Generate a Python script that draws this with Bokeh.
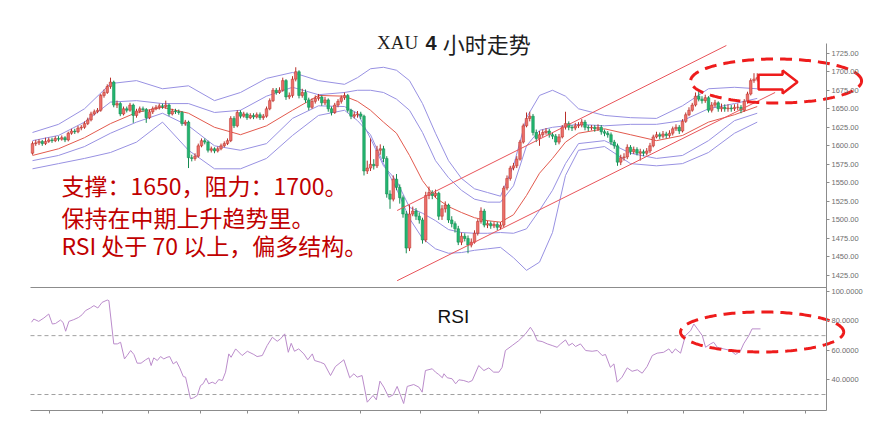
import numpy as np
from bokeh.plotting import figure
from bokeh.models import (Range1d, LinearAxis, FixedTicker, CustomJSTickFormatter,
                          Label, ColumnDataSource)
from bokeh.embed import file_html
from bokeh.resources import INLINE

# ---------------- data ----------------
first_open = 1590
close = [1603,1604,1606,1603,1606,1608,1607,1610,1609,1611,
         1608,1617,1620,1619,1624,1625,1630,1635,1643,1646,
         1648,1668,1672,1680,1686,1655,1657,1643,1650,1648,
         1655,1641,1647,1650,1649,1638,1646,1650,1652,1654,
         1653,1655,1643,1647,1646,1645,1630,1632,1584,1583,
         1586,1600,1607,1605,1594,1596,1593,1596,1600,1603,
         1607,1637,1627,1645,1640,1643,1638,1641,1639,1642,
         1638,1640,1650,1661,1675,1672,1675,1688,1666,1668,
         1690,1700,1668,1672,1662,1652,1660,1664,1666,1658,
         1662,1650,1645,1655,1660,1665,1668,1648,1640,1642,
         1643,1640,1566,1570,1575,1573,1594,1596,1583,1535,
         1528,1555,1544,1530,1508,1462,1508,1512,1505,1500,
         1473,1533,1537,1533,1536,1505,1515,1520,1500,1495,
         1488,1470,1478,1475,1466,1470,1482,1498,1512,1493,
         1495,1492,1494,1490,1493,1543,1556,1570,1573,1582,
         1605,1627,1637,1640,1618,1610,1615,1618,1620,1615,
         1613,1605,1612,1625,1630,1625,1624,1627,1628,1632,
         1625,1624,1625,1623,1625,1619,1617,1615,1605,1600,
         1578,1584,1585,1598,1592,1595,1590,1592,1590,1593,
         1600,1612,1615,1613,1616,1614,1617,1623,1625,1620,
         1633,1642,1648,1655,1667,1663,1661,1665,1648,1655,
         1658,1650,1652,1650,1651,1650,1652,1652,1648,1660,
         1670,1688,1690,1692]
high = [1606,1608,1609,1608,1611,1611,1611,1613,1613,1614,
        1613,1619,1623,1623,1627,1628,1633,1638,1646,1649,
        1651,1670,1676,1683,1692,1688,1661,1659,1653,1653,
        1658,1657,1650,1653,1653,1651,1649,1653,1655,1657,
        1657,1661,1657,1650,1650,1649,1647,1635,1634,1588,
        1590,1603,1610,1610,1607,1599,1598,1599,1603,1606,
        1610,1640,1640,1648,1648,1646,1645,1644,1644,1645,
        1645,1643,1653,1664,1678,1678,1679,1692,1690,1672,
        1694,1706,1702,1677,1676,1665,1664,1668,1670,1668,
        1666,1664,1653,1658,1663,1668,1672,1670,1650,1646,
        1647,1646,1642,1580,1610,1582,1600,1602,1600,1586,
        1540,1560,1562,1548,1533,1512,1520,1518,1516,1510,
        1503,1538,1545,1540,1541,1538,1520,1525,1522,1505,
        1498,1492,1483,1482,1479,1475,1486,1501,1517,1515,
        1499,1498,1497,1497,1497,1546,1560,1573,1577,1586,
        1608,1630,1645,1646,1643,1622,1620,1622,1624,1623,
        1618,1616,1616,1628,1646,1633,1628,1631,1632,1636,
        1635,1628,1628,1628,1629,1628,1622,1620,1618,1608,
        1603,1588,1590,1602,1601,1599,1598,1596,1595,1597,
        1604,1615,1619,1618,1620,1619,1621,1626,1629,1628,
        1636,1645,1652,1658,1672,1675,1667,1669,1667,1659,
        1662,1660,1657,1656,1656,1655,1656,1657,1655,1663,
        1673,1691,1698,1698]
low = [1588,1600,1601,1600,1601,1604,1604,1605,1606,1607,
       1605,1606,1615,1616,1617,1621,1623,1628,1633,1641,
       1644,1646,1665,1670,1677,1652,1651,1640,1641,1645,
       1646,1631,1638,1644,1646,1631,1636,1643,1648,1649,
       1650,1650,1640,1641,1643,1642,1627,1627,1570,1579,
       1580,1584,1598,1602,1591,1591,1590,1591,1594,1598,
       1601,1605,1624,1625,1637,1638,1635,1636,1636,1637,
       1635,1635,1638,1648,1659,1669,1670,1673,1662,1663,
       1665,1687,1664,1665,1658,1648,1650,1657,1661,1654,
       1655,1646,1641,1643,1652,1657,1662,1645,1636,1637,
       1638,1636,1560,1562,1566,1568,1570,1588,1578,1530,
       1515,1525,1540,1522,1503,1455,1458,1505,1500,1495,
       1468,1470,1528,1528,1530,1500,1500,1510,1496,1490,
       1483,1466,1466,1471,1455,1463,1468,1479,1495,1490,
       1489,1488,1489,1486,1487,1490,1540,1553,1567,1570,
       1580,1603,1625,1633,1614,1605,1600,1612,1615,1611,
       1609,1601,1602,1610,1622,1621,1620,1621,1624,1625,
       1621,1620,1621,1619,1620,1615,1613,1611,1601,1596,
       1573,1574,1580,1582,1588,1589,1587,1580,1586,1587,
       1590,1598,1610,1609,1610,1610,1611,1614,1620,1616,
       1618,1631,1640,1646,1653,1660,1657,1658,1645,1645,
       1652,1646,1646,1646,1646,1646,1647,1648,1644,1646,
       1657,1668,1685,1687]

# five envelope lines (two purple above, red middle, two purple below)
band_idx = [0,8,16,24,32,40,48,56,64,72,80,88,96,100,104,108,112,116,120,124,
            128,132,136,140,144,148,152,156,160,164,168,176,184,192,200,208,216,223]
band_1 = [1618,1629,1650,1684,1688,1677,1681,1661,1672,1691,1699,1688,1683,1692,1704,1706,1702,1688,1657,1617,
          1580,1556,1542,1537,1532,1573,1638,1668,1675,1667,1650,1641,1638,1637,1654,1677,1679,1677]
band_2 = [1607,1614,1632,1659,1661,1657,1657,1645,1648,1667,1679,1669,1672,1675,1675,1672,1663,1648,1618,1580,
          1557,1540,1528,1524,1524,1546,1600,1621,1625,1627,1629,1627,1629,1629,1634,1650,1657,1664]
band_mid = [1587,1596,1611,1630,1645,1652,1644,1625,1615,1627,1648,1668,1667,1660,1648,1632,1617,1587,1553,1530,
            1518,1510,1503,1499,1497,1507,1533,1563,1583,1605,1617,1623,1615,1607,1614,1632,1642,1653]
band_4 = [1580,1587,1599,1617,1632,1644,1627,1600,1594,1603,1637,1654,1653,1644,1610,1573,1553,1517,1509,1499,
          1487,1483,1482,1482,1483,1482,1488,1513,1540,1576,1603,1607,1590,1583,1587,1607,1634,1644]
band_5 = [1569,1576,1583,1591,1605,1632,1594,1569,1569,1583,1614,1641,1648,1634,1615,1576,1542,1502,1475,1461,
          1455,1456,1459,1461,1463,1449,1432,1443,1483,1560,1594,1599,1576,1573,1576,1591,1617,1632]

# RSI (candle position, value)
rsi_pos = [-0.3,0.4,1.9,3.5,5.0,6.1,7.1,8.6,9.4,10.2,
           11.2,12.7,14.2,15.3,16.3,17.8,18.9,20.1,21.4,23.0,
           23.5,25.0,26.1,27.1,28.3,29.1,30.2,31.2,32.2,33.4,
           34.8,35.8,36.5,37.3,38.4,39.4,40.4,41.4,42.2,43.3,
           44.3,45.3,46.4,47.1,48.6,49.6,50.7,51.7,52.5,53.4,
           54.2,55.3,56.3,57.3,58.4,59.4,60.4,61.1,62.5,64.5,
           66.1,68.1,69.1,70.7,72.2,73.8,75.3,76.3,77.6,78.7,
           79.6,80.6,81.9,83.5,84.7,86.1,86.8,88.6,89.8,91.7,
           93.2,95.8,97.6,98.9,99.9,101.4,103.0,104.8,105.8,106.9,
           108.1,109.6,111.0,112.2,114.2,115.3,117.3,118.9,119.9,120.9,
           123.0,124.0,125.0,126.1,126.6,127.6,129.1,130.2,131.2,132.7,
           134.2,135.3,137.3,138.9,140.4,141.9,143.5,144.5,145.5,147.6,
           149.6,151.7,153.2,154.2,155.3,156.8,158.4,159.9,161.4,162.5,
           164.0,165.0,166.1,167.1,168.6,170.2,172.2,173.8,175.3,176.3,
           177.8,178.9,179.9,181.4,183.0,184.5,186.1,187.6,189.1,190.7,
           192.2,194.2,195.8,196.8,197.8,199.4,200.9,202.5,203.5,205.0,
           206.1,207.1,208.6,209.6,210.7,212.7,214.8,216.3,217.8,218.8,
           220.4,221.4,224.0]
rsi_val = [79.1,81.3,79.7,82.0,84.7,77.9,78.3,80.6,79.0,73.0,
           79.7,80.9,82.4,84.3,87.0,88.8,90.4,88.8,92.6,94.2,
           93.8,64.4,64.4,65.5,54.2,56.5,59.9,57.2,51.3,51.3,
           53.6,54.9,49.7,54.9,53.1,55.8,54.2,55.3,55.8,50.8,
           52.4,48.1,42.2,41.8,27.1,27.8,29.4,36.1,37.3,41.1,
           37.3,38.4,37.3,40.2,39.5,45.2,57.6,55.3,61.0,56.5,
           59.4,57.2,55.8,56.5,63.3,68.9,66.2,67.8,71.2,58.7,
           64.8,59.4,61.0,57.6,53.6,57.6,53.1,51.9,50.8,42.9,
           49.0,53.6,41.4,44.1,41.8,42.9,24.8,29.4,26.4,39.1,
           35.0,28.2,29.8,35.5,23.9,35.5,36.8,35.0,31.6,46.3,
           47.5,45.2,43.6,41.4,44.1,41.4,40.7,37.3,40.0,39.5,
           38.4,39.5,49.7,46.3,48.1,45.2,45.2,48.5,59.9,63.3,
           66.6,71.2,75.7,72.3,66.6,66.0,64.4,63.3,62.1,64.4,
           67.1,63.3,64.8,62.6,64.4,59.9,59.4,59.9,56.5,57.2,
           48.5,50.8,38.4,41.8,48.1,45.8,46.8,44.5,49.0,56.5,
           58.1,58.7,61.0,58.1,61.0,58.1,70.0,73.4,77.9,73.4,
           70.0,62.1,64.4,65.5,62.1,61.0,59.9,57.2,59.4,64.4,
           70.0,74.6,74.6]

price_ticks = [1425, 1450, 1475, 1500, 1525, 1550, 1575, 1600, 1625, 1650, 1675, 1700, 1725]
rsi_ticks = [40, 60, 80, 100]
rsi_levels = [70, 30]
time_ticks = [5.3, 21.4, 35.6, 51.7, 66.1, 81.9, 100.9, 119.4, 137.2, 156.3, 183.0, 200.4, 218.9, 237.8]

title_parts = ["XAU", "4", "小时走势"]
notes = ["支撑：1650，阻力：1700。", "保持在中期上升趋势里。", "RSI 处于 70 以上，偏多结构。"]
rsi_title = "RSI"

# channel lines (candle position, price)
chan_upper_x, chan_upper_y = [112.2, 213.5], [1512.7, 1735.4]
chan_lower_x, chan_lower_y = [112.2, 228.5], [1418.0, 1672.0]

# ---------------- layout in data units ----------------
X_RANGE = (-9.85, 257.54)        # candle positions across the whole canvas
P_RANGE = (1229.33, 1796.12)     # price across the whole canvas height
R_RANGE = (12.35, 297.73)        # RSI across the whole canvas height
AXIS_X = 244.31                  # right value axis position
LEFT_X = -0.62                   # left end of panel lines
PANEL_TOP = 1738.1               # top of price panel (price)
SPLIT = 1408.8                   # border price / RSI panel (price)
BOTTOM = 1242.8                  # bottom of RSI panel (price)
P0, P1 = P_RANGE
R0, R1 = R_RANGE


def rsi_to_price(v):
    return P0 + (np.asarray(v, dtype=float) - R0) * (P1 - P0) / (R1 - R0)


RED = "#ee1c1c"
PURPLE = "#9891e2"
GRAY = "#8c8c8c"

p = figure(width=869, height=420, x_range=Range1d(*X_RANGE), y_range=Range1d(*P_RANGE),
           output_backend="svg", toolbar_location=None, title=None,
           x_axis_location=None, y_axis_location=None,
           min_border_left=0, min_border_right=0, min_border_top=0, min_border_bottom=0)
p.outline_line_color = None
p.grid.visible = False
p.background_fill_color = "white"

# right value axis (price ticks + RSI ticks on one line)
fmt = CustomJSTickFormatter(code="""
const p0=%f, p1=%f, r0=%f, r1=%f, split=%f;
if (tick < split) { const v = r0 + (tick - p0)*(r1 - r0)/(p1 - p0); return v.toFixed(4); }
return tick.toFixed(2);
""" % (P0, P1, R0, R1, SPLIT))
ya = LinearAxis(ticker=FixedTicker(ticks=price_ticks + [float(t) for t in rsi_to_price(rsi_ticks)]),
                formatter=fmt, fixed_location=AXIS_X, bounds=(BOTTOM, PANEL_TOP))
ya.axis_line_color = GRAY
ya.major_tick_line_color = GRAY
ya.major_tick_out = 3
ya.major_tick_in = 0
ya.minor_tick_line_color = None
ya.major_label_standoff = 2
ya.major_label_text_font_size = "7.5px"
ya.major_label_text_font = "Liberation Sans"
ya.major_label_text_color = "#6e6e6e"
p.add_layout(ya, "right")

# bottom time axis: ticks only
xa = LinearAxis(ticker=FixedTicker(ticks=time_ticks), fixed_location=BOTTOM, bounds=(LEFT_X, AXIS_X))
xa.axis_line_color = GRAY
xa.major_tick_line_color = GRAY
xa.major_tick_out = 3
xa.major_tick_in = 0
xa.minor_tick_line_color = None
xa.major_label_text_color = None
p.add_layout(xa, "below")

# panel separator and RSI levels
p.line([LEFT_X, AXIS_X], [SPLIT, SPLIT], line_color=GRAY, line_width=1.2)
for lv in rsi_levels:
    yv = float(rsi_to_price(lv))
    p.line([LEFT_X, AXIS_X], [yv, yv], line_color="#a0a0a0", line_width=1, line_dash="4 3")

# envelope lines
for arr, col in [(band_1, PURPLE), (band_2, PURPLE), (band_4, PURPLE), (band_5, PURPLE),
                 (band_mid, "#e25a4e")]:
    p.line(band_idx, arr, line_color=col, line_width=1)

# candles
o = np.array([first_open] + close[:-1], dtype=float)
c = np.array(close, dtype=float)
up = c >= o
src = ColumnDataSource(dict(
    x=np.arange(len(c)), h=high, l=low,
    top=np.maximum(o, c), bottom=np.minimum(o, c),
    fill=np.where(up, "#ec6f69", "#22b56f"),
    line=np.where(up, "#b9302a", "#168a52"),
))
p.segment(x0="x", y0="h", x1="x", y1="l", line_color="line", line_width=1, source=src)
p.vbar(x="x", width=0.8, top="top", bottom="bottom", fill_color="fill",
       line_color="line", line_width=0.5, source=src)

# channel
p.line(chan_upper_x, chan_upper_y, line_color="#e8545a", line_width=1)
p.line(chan_lower_x, chan_lower_y, line_color="#e8545a", line_width=1)

# RSI line
p.line(rsi_pos, rsi_to_price(rsi_val), line_color="#bb8ccb", line_width=1)

# arrow
ax0, ax1, ax2, ayc, abh, ahh = 223.4, 230.8, 235.4, 1686.0, 9.9, 15.5
p.patch([ax0, ax1, ax1, ax2, ax1, ax1, ax0],
        [ayc + abh, ayc + abh, ayc + ahh, ayc, ayc - ahh, ayc - abh, ayc - abh],
        fill_color="white", line_color=RED, line_width=2.5)

# dashed ellipses
t = np.linspace(0, 2 * np.pi, 240)
p.line(228.8 + 26.3 * np.cos(t), 1687.5 + 29.7 * np.sin(t),
       line_color=RED, line_width=3, line_dash="12 7")
p.line(224.5 + 25.1 * np.cos(t), rsi_to_price(72.5 + 13.6 * np.sin(t)),
       line_color=RED, line_width=3, line_dash="12 7")

# title in three pieces (serif "XAU", bold "4", CJK)
TITLE_Y = 1739.4
for txt, xx, fnt, size, style in [(title_parts[0], 106.0, "Liberation Serif", "19px", "normal"),
                                   (title_parts[1], 120.9, "Liberation Sans", "20px", "bold"),
                                   (title_parts[2], 126.2, "Noto Sans CJK SC", "22px", "normal")]:
    p.add_layout(Label(x=xx, y=TITLE_Y, text=txt, text_align="left", text_baseline="middle",
                       text_font=fnt, text_font_size=size, text_font_style=style,
                       text_color="#1e1e1e"))

for txt, yy in zip(notes, [1547.1, 1504.6, 1465.5]):
    p.add_layout(Label(x=8.9, y=yy, text=txt, text_align="left", text_baseline="middle",
                       text_font="Noto Sans CJK SC", text_font_size="23px",
                       text_color="#c00000"))
p.add_layout(Label(x=129.5, y=float(rsi_to_price(83.0)), text=rsi_title, text_align="center",
                   text_baseline="middle", text_font="Liberation Sans",
                   text_font_size="19px", text_color="#111111"))

open("out.html", "w").write(file_html(p, INLINE))
